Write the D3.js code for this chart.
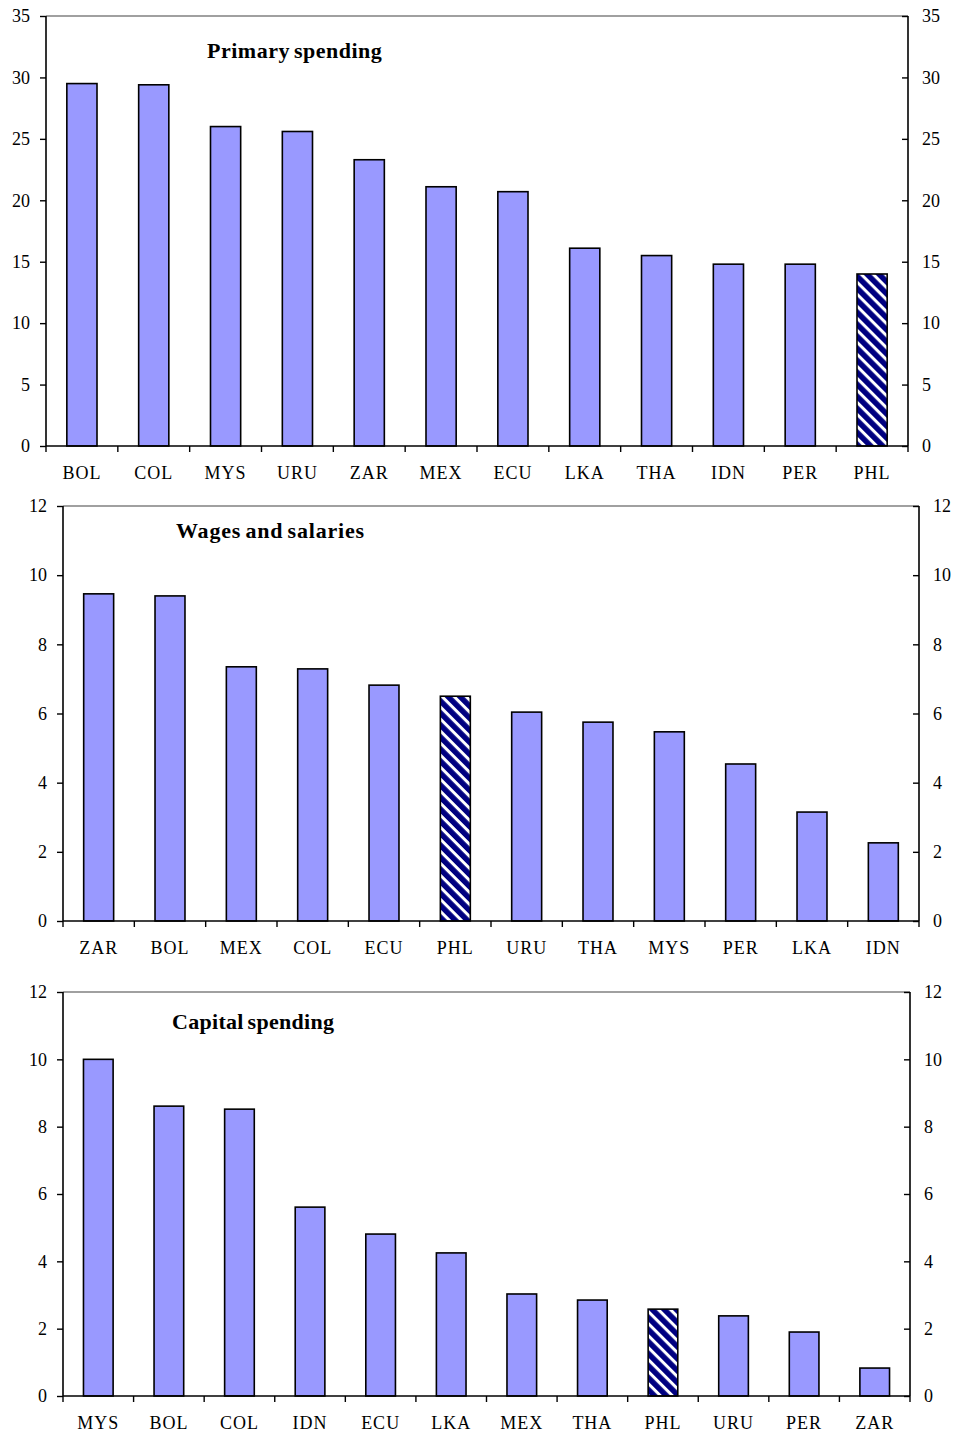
<!DOCTYPE html>
<html>
<head>
<meta charset="utf-8">
<script src="https://cdn.jsdelivr.net/npm/d3@7"></script>
<style>
  html, body { margin: 0; padding: 0; background: #fff; }
  svg text { font-family: "Liberation Serif", "Times New Roman", serif; fill: #000; }
</style>
</head>
<body>
<svg id="chart" width="957" height="1433"></svg>
<script>
// Primary spending
const primaryCountries = ["BOL","COL","MYS","URU","ZAR","MEX","ECU","LKA","THA","IDN","PER","PHL"];
const primaryValues    = [29.5, 29.4, 26.0, 25.6, 23.3, 21.1, 20.7, 16.1, 15.5, 14.8, 14.8, 14.0];
const primaryTicks     = [0, 5, 10, 15, 20, 25, 30, 35];

// Wages and salaries
const wagesCountries = ["ZAR","BOL","MEX","COL","ECU","PHL","URU","THA","MYS","PER","LKA","IDN"];
const wagesValues    = [9.46, 9.4, 7.35, 7.29, 6.82, 6.5, 6.04, 5.75, 5.47, 4.54, 3.15, 2.26];
const wagesTicks     = [0, 2, 4, 6, 8, 10, 12];

// Capital spending
const capitalCountries = ["MYS","BOL","COL","IDN","ECU","LKA","MEX","THA","PHL","URU","PER","ZAR"];
const capitalValues    = [10.0, 8.61, 8.52, 5.61, 4.81, 4.25, 3.03, 2.85, 2.58, 2.38, 1.9, 0.83];
const capitalTicks     = [0, 2, 4, 6, 8, 10, 12];

const highlight = "PHL";

const svg = d3.select("#chart");

// diagonal navy/white hatch for the highlighted country
const defs = svg.append("defs");
const pat = defs.append("pattern")
  .attr("id", "hatch")
  .attr("patternUnits", "userSpaceOnUse")
  .attr("width", 8.5).attr("height", 8.5)
  .attr("patternTransform", "rotate(45)");
pat.append("rect").attr("width", 8.5).attr("height", 8.5).attr("fill", "#000080");
pat.append("rect").attr("x", 0).attr("y", 0).attr("width", 8.5).attr("height", 3).attr("fill", "#fff");

function panel(cfg) {
  const { countries, values, ticks, title, left, right, top, bottom, titleX, titleY, titleSpacing } = cfg;
  const g = svg.append("g");
  const x = d3.scaleBand().domain(countries).range([left, right])
    .paddingInner(0.58).paddingOuter(0.29);
  const y = d3.scaleLinear().domain([0, d3.max(ticks)]).range([bottom, top]);
  const step = x.step();

  // gray frame top
  g.append("line").attr("x1", left).attr("x2", right).attr("y1", top).attr("y2", top)
    .attr("stroke", "#808080").attr("stroke-width", 1.5);

  // bars
  g.selectAll("rect.bar").data(countries).join("rect")
    .attr("class", "bar")
    .attr("x", d => x(d))
    .attr("width", x.bandwidth())
    .attr("y", (d, i) => y(values[i]))
    .attr("height", (d, i) => y(0) - y(values[i]))
    .attr("fill", d => d === highlight ? "url(#hatch)" : "#9999ff")
    .attr("stroke", "#000").attr("stroke-width", 1.6);

  // left axis
  const leftAxis = d3.axisLeft(y).tickValues(ticks).tickSize(6).tickPadding(10);
  const la = g.append("g").attr("transform", `translate(${left},0)`).call(leftAxis);
  // right axis (ticks pointing inward)
  const rightAxis = d3.axisRight(y).tickValues(ticks).tickSizeInner(-6).tickSizeOuter(0).tickPadding(14);
  const ra = g.append("g").attr("transform", `translate(${right},0)`).call(rightAxis);
  [la, ra].forEach(a => {
    a.select(".domain").attr("stroke", "#000").attr("stroke-width", 1.6);
    a.selectAll(".tick line").attr("stroke", "#000").attr("stroke-width", 1.4);
    a.selectAll(".tick text").attr("font-size", 18).style("font-family", "Liberation Serif");
  });
  la.select(".domain").attr("d", `M0,${top}V${bottom}`);
  ra.select(".domain").attr("d", `M0,${top}V${bottom}`);
  ra.selectAll(".tick text").attr("x", 14);

  // bottom axis: line plus ticks at category boundaries
  g.append("line").attr("x1", left).attr("x2", right).attr("y1", bottom).attr("y2", bottom)
    .attr("stroke", "#000").attr("stroke-width", 1.6);
  const bounds = d3.range(countries.length + 1).map(i => left + i * step);
  g.selectAll("line.xt").data(bounds).join("line")
    .attr("class", "xt")
    .attr("x1", d => d).attr("x2", d => d)
    .attr("y1", bottom).attr("y2", bottom + 6)
    .attr("stroke", "#000").attr("stroke-width", 1.4);
  g.selectAll("text.xl").data(countries).join("text")
    .attr("class", "xl")
    .attr("x", d => x(d) + x.bandwidth() / 2)
    .attr("y", bottom + 33)
    .attr("text-anchor", "middle")
    .attr("font-size", 18)
    .attr("letter-spacing", 1)
    .text(d => d);

  // panel title
  g.append("text")
    .attr("x", titleX).attr("y", titleY)
    .attr("font-size", 22).attr("font-weight", "bold")
    .attr("letter-spacing", titleSpacing)
    .attr("word-spacing", -2)
    .text(title);
}

panel({ countries: primaryCountries, values: primaryValues, ticks: primaryTicks,
  title: "Primary spending", left: 46, right: 908, top: 16, bottom: 446, titleX: 207, titleY: 58, titleSpacing: 0.5 });
panel({ countries: wagesCountries, values: wagesValues, ticks: wagesTicks,
  title: "Wages and salaries", left: 63, right: 919, top: 506, bottom: 921, titleX: 176, titleY: 538, titleSpacing: 0.8 });
panel({ countries: capitalCountries, values: capitalValues, ticks: capitalTicks,
  title: "Capital spending", left: 63, right: 910, top: 992, bottom: 1396, titleX: 172, titleY: 1029, titleSpacing: 0.3 });
</script>
</body>
</html>
